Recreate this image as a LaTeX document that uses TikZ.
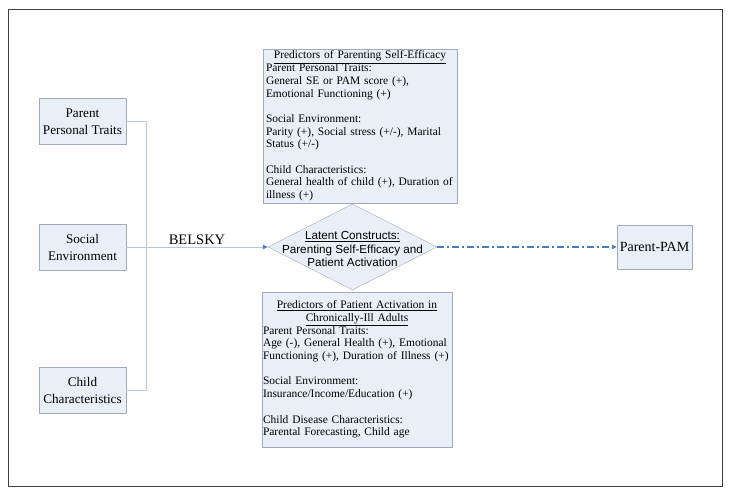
\documentclass[tikz,border=0pt]{standalone}
\usepackage{fontspec}
\setmainfont{Liberation Serif}
\newfontfamily\arialfont{Liberation Sans}
\usepackage{xcolor}
\usetikzlibrary{arrows.meta, shapes.geometric, positioning}
\definecolor{boxfill}{HTML}{E9EEF8}
\definecolor{boxline}{HTML}{A3AAB8}
\definecolor{linkline}{HTML}{B7C7DD}
\definecolor{flowblue}{HTML}{4A7EBB}
\tikzset{
    factor/.style={draw=boxline, fill=boxfill, align=center, inner sep=1pt,
        minimum width=87pt, minimum height=46pt, font=\fontsize{13.2}{17}\selectfont},
    predictor/.style={draw=boxline, fill=boxfill, align=left, inner ysep=2pt,
        font=\fontsize{11.45}{12.7}\selectfont},
    latent/.style={diamond, draw=boxline, fill=boxfill, inner sep=0pt,
        minimum width=169pt, minimum height=86pt},
    link/.style={draw=linkline, line width=0.8pt},
    flow/.style={draw=flowblue, line width=1.2pt, dash pattern=on 7pt off 3pt on 2pt off 3pt},
    flowtip/.style={-{Triangle[length=5pt, width=4.5pt, color=flowblue]}}
}

\begin{document}
\begin{tikzpicture}[x=1pt, y=-1pt]
    \useasboundingbox (0,0) rectangle (732,496);
    \draw[black!75, line width=1pt] (8,9) rectangle (722,486);

    % factors
    \node[factor] (ppt) at (82.5,121.5) {Parent\\Personal Traits};
    \node[factor] (soc) at (82.5,247) {Social\\Environment};
    \node[factor] (chd) at (82.5,390.5) {Child\\Characteristics};
    \coordinate (bus) at (146.5,0);

    % predictors
    \node[predictor, text width=192pt, inner xsep=1pt, minimum height=154pt] (pse) at (360,126) {%
        \makebox[\linewidth]{\underline{Predictors of Parenting Self-Efficacy}}\\
        \hspace*{2pt}Parent Personal Traits:\\
        \hspace*{2pt}General SE or PAM score (+),\\
        \hspace*{2pt}Emotional Functioning (+)\\[12.7pt]
        \hspace*{2pt}Social Environment:\\
        \hspace*{2pt}Parity (+), Social stress (+/-), Marital\\
        \hspace*{2pt}Status (+/-)\\[12.7pt]
        \hspace*{2pt}Child Characteristics:\\
        \hspace*{2pt}\mbox{General health of child (+), Duration of}\\
        \hspace*{2pt}illness (+)};
    \node[predictor, text width=190pt, inner xsep=0pt, minimum height=155pt] (pad) at (357,369.5) {%
        \makebox[\linewidth]{\underline{Predictors of Patient Activation in}}\\
        \makebox[\linewidth]{\underline{Chronically-Ill Adults}}\\
        \hspace*{1pt}Parent Personal Traits:\\
        \hspace*{1pt}Age (-), General Health (+), Emotional\\
        \hspace*{1pt}\mbox{Functioning (+), Duration of Illness (+)}\\[12.7pt]
        \hspace*{1pt}Social Environment:\\
        \hspace*{1pt}Insurance/Income/Education (+)\\[12.7pt]
        \hspace*{1pt}Child Disease Characteristics:\\
        \hspace*{1pt}Parental Forecasting, Child age};

    % latent constructs
    \node[latent] (lat) at (352.5,247) {};
    \node[align=center, inner sep=0pt, font=\arialfont\fontsize{11.7}{13.5}\selectfont] (latx) at (352.5,249)
        {\underline{Latent Constructs:}\\Parenting Self-Efficacy and\\Patient Activation};

    \node[draw=boxline, fill=boxfill, minimum width=75pt, minimum height=44pt, inner sep=1pt,
        font=\fontsize{14}{16}\selectfont] (pam) at (654.5,247) {Parent-PAM};

    % connectors
    \draw[link] (ppt.east) -| (bus |- chd.east) -- (chd.east);
    \draw[link, flowtip] (soc.east) -- node[above=1pt, inner sep=1pt, font=\fontsize{14.5}{16}\selectfont] (bel) {BELSKY} (lat.west);
    \draw[flow, flowtip] (lat.east) -- (pam.west);
\end{tikzpicture}
\end{document}
